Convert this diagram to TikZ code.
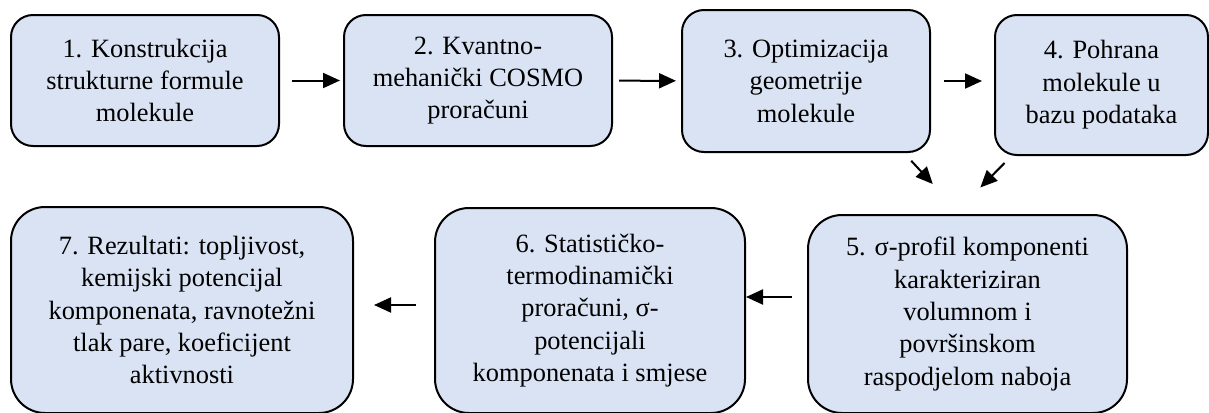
\documentclass[tikz,border=0pt]{standalone}
\usepackage{fontspec}
\setmainfont{Liberation Serif}
\usetikzlibrary{arrows.meta,calc}
\definecolor{boxblue}{HTML}{DAE3F3}
\tikzset{
  korak/.style={draw=black, line width=1pt, fill=boxblue, align=center, inner sep=0pt,
    font=\fontsize{13.2}{16.2}\selectfont},
  strelica/.style={line width=1pt, -{Triangle[length=8.5pt,width=7.5pt]}}
}
\begin{document}
\begin{tikzpicture}[x=0.5pt,y=-0.5pt]
\useasboundingbox (0,0) rectangle (1209,412);
\node[korak, rounded corners=11pt, minimum width=134pt, minimum height=65.5pt] (b1) at (145,80.5) {1. Konstrukcija\\strukturne formule\\molekule};
\node[korak, rounded corners=11pt, minimum width=134pt, minimum height=65.5pt] (b2) at (478,80.5) {2. Kvantno-\\mehanički COSMO\\proračuni};
\node[korak, rounded corners=11pt, minimum width=124pt, minimum height=71pt] (b3) at (806,81) {3. Optimizacija\\geometrije\\molekule};
\node[korak, rounded corners=11pt, minimum width=106.5pt, minimum height=70pt] (b4) at (1101.5,85) {4. Pohrana\\molekule u\\bazu podataka};
\node[korak, rounded corners=17pt, minimum width=159.5pt, minimum height=99pt] (b5) at (967.5,314) {5. σ-profil komponenti\\karakteriziran\\volumnom i\\površinskom\\raspodjelom naboja};
\node[korak, rounded corners=17pt, minimum width=155pt, minimum height=102.5pt] (b6) at (590,310.5) {6. Statističko-\\termodinamički\\proračuni, σ-\\potencijali\\komponenata i smjese};
\node[korak, rounded corners=17pt, minimum width=171pt, minimum height=103pt] (b7) at (182,310) {7. Rezultati: topljivost,\\kemijski potencijal\\komponenata, ravnotežni\\tlak pare, koeficijent\\aktivnosti};
\draw[strelica, shorten <=6pt, shorten >=1.5pt] (b1) -- (b2);
\draw[strelica, shorten <=3pt, shorten >=2.5pt] (b2) -- (b3);
\draw[strelica, shorten <=6.5pt, shorten >=6pt] (b3.east) -- (b3.east -| b4.west);
\draw[strelica, shorten <=5.3pt, shorten >=20.4pt] ($(b3.south east)+(-27,0)$) -- ($(b5.north)+(-7,0)$);
\draw[strelica, shorten <=4.9pt, shorten >=18.7pt] ($(b4.south)+(-90,0)$) -- ($(b5.north)+(-13.5,0)$);
\draw[strelica, shorten <=7.5pt] ($(b5.west)+(0,-17)$) coordinate (p5) -- (p5 -| b6.east);
\draw[strelica, shorten <=9pt, shorten >=10pt] ($(b6.west)+(0,-5.5)$) coordinate (p6) -- (p6 -| b7.east);
\end{tikzpicture}
\end{document}
